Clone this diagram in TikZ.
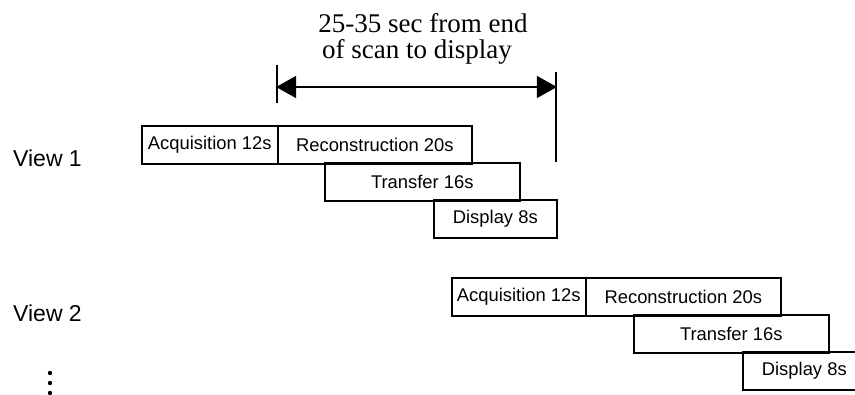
\documentclass[tikz,border=0pt]{standalone}
\usepackage{fontspec}
\setmainfont{Liberation Serif}
\setsansfont{Liberation Sans}
\usetikzlibrary{arrows.meta}
\begin{document}
\begin{tikzpicture}[x=1pt,y=-1pt,
  box/.style={draw, line width=1.6pt, anchor=north west, minimum height=38pt, inner sep=0pt,
    font=\sffamily\fontsize{18.4}{20}\selectfont},
  lbl/.style={font=\sffamily\fontsize{23}{26}\selectfont, anchor=west, inner sep=0pt},
  captext/.style={font=\fontsize{27}{26}\selectfont, inner sep=0pt, anchor=base},
  tick/.style={line width=1.8pt},
  dim/.style={line width=1.5pt, {Triangle[length=20pt,width=22pt]}-{Triangle[length=20pt,width=22pt]}, shorten <=-0.9pt, shorten >=-0.9pt}]
\useasboundingbox (0,0) rectangle (855,395);
\clip (0,0) rectangle (855,395);
% view 1
\node[box, minimum width=136pt] (a1) at (141,125) {Acquisition 12s};
\node[box, minimum width=194pt] (r1) at (277,125) {Reconstruction 20s};
\node[box, minimum width=195pt] (t1) at (324,162) {Transfer 16s};
\node[box, minimum width=123pt] (d1) at (433,199) {Display 8s};
% view 2
\node[box, minimum width=134pt] (a2) at (451,277) {Acquisition 12s};
\node[box, minimum width=195pt] (r2) at (585,277) {Reconstruction 20s};
\node[box, minimum width=195pt] (t2) at (633,314) {Transfer 16s};
\node[box, minimum width=123pt] (d2) at (742,351) {Display 8s};
% labels
\node[lbl] (v1) at (13,158) {View 1};
\node[lbl] (v2) at (13,313) {View 2};
\foreach \yy/\nm in {373/p1,383/p2,393/p3}{
  \fill (50,\yy) circle (2.2pt) coordinate (\nm);
}
% dimension
\coordinate (lt) at (277,65);
\coordinate (lb) at (277,103);
\coordinate (rt) at (556,72);
\coordinate (rb) at (556,162);
\coordinate (la) at (277,87);
\coordinate (ra) at (556,87);
\draw[tick] (lt) -- (lb);
\draw[tick] (rt) -- (rb);
\draw[dim] (la) -- (ra);
\node[captext] (cap1) at (423,33) {25-35 sec from end};
\node[captext] (cap2) at (417,59) {of scan to display};
\end{tikzpicture}
\end{document}
